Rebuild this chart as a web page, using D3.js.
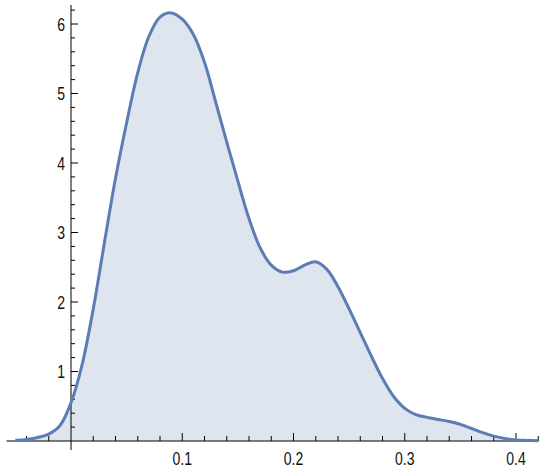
<!DOCTYPE html>
<html>
<head>
<meta charset="utf-8">
<script src="https://cdn.jsdelivr.net/npm/d3@7"></script>
<style>
  body { margin: 0; background: #fff; }
  text { font-family: "Liberation Sans", Arial, sans-serif; fill: #111; }
</style>
</head>
<body>
<div id="chart"></div>
<script>
// density estimate
const xValues = [-0.05, -0.04, -0.03, -0.02, -0.01, 0, 0.01, 0.02, 0.03, 0.04, 0.05, 0.06, 0.07, 0.08, 0.09,
  0.10, 0.11, 0.12, 0.13, 0.14, 0.15, 0.16, 0.17, 0.18, 0.19, 0.20, 0.21, 0.22, 0.23, 0.24, 0.25,
  0.26, 0.27, 0.28, 0.29, 0.30, 0.31, 0.32, 0.33, 0.34, 0.35, 0.36, 0.37, 0.38, 0.39, 0.40, 0.41, 0.42];
const densityValues = [0.01, 0.02, 0.05, 0.10, 0.22, 0.55, 1.1, 1.9, 2.85, 3.78, 4.58, 5.3, 5.82, 6.1, 6.16,
  6.07, 5.85, 5.45, 4.88, 4.3, 3.74, 3.2, 2.78, 2.53, 2.43, 2.45, 2.53, 2.58, 2.47, 2.22, 1.9,
  1.56, 1.22, 0.9, 0.64, 0.47, 0.38, 0.34, 0.31, 0.28, 0.24, 0.18, 0.12, 0.07, 0.035, 0.015, 0.008, 0.004];
const xTicks = [0.1, 0.2, 0.3, 0.4];
const yTicks = [1, 2, 3, 4, 5, 6];

const width = 550;
const height = 468;

const data = xValues.map((x, i) => ({ x: x, y: densityValues[i] }));

const xScale = d3.scaleLinear().domain([0, 0.4]).range([71, 516]);
const yScale = d3.scaleLinear().domain([0, 6]).range([441, 24]);

const svg = d3.select("#chart")
  .append("svg")
  .attr("width", width)
  .attr("height", height);

const area = d3.area()
  .x(d => xScale(d.x))
  .y0(yScale(0))
  .y1(d => yScale(d.y))
  .curve(d3.curveCatmullRom.alpha(0.5));

const line = d3.line()
  .x(d => xScale(d.x))
  .y(d => yScale(d.y))
  .curve(d3.curveCatmullRom.alpha(0.5));

svg.append("path")
  .datum(data)
  .attr("d", area)
  .attr("fill", "#dfe5ef");

// x axis
const xMinor = d3.range(-0.04, 0.421, 0.02).filter(v => Math.abs(v) > 1e-9);
svg.append("line")
  .attr("x1", xScale(-0.058)).attr("x2", xScale(0.42))
  .attr("y1", yScale(0)).attr("y2", yScale(0))
  .attr("stroke", "#000").attr("stroke-width", 1);

svg.selectAll(".x-tick")
  .data(xMinor)
  .enter()
  .append("line")
  .attr("class", "x-tick")
  .attr("x1", d => xScale(d)).attr("x2", d => xScale(d))
  .attr("y1", yScale(0))
  .attr("y2", d => xTicks.some(t => Math.abs(t - d) < 1e-9) ? yScale(0) - 8 : yScale(0) - 5)
  .attr("stroke", "#000");

// labels are condensed in the original
svg.selectAll(".x-label")
  .data(xTicks)
  .enter()
  .append("text")
  .attr("class", "x-label")
  .attr("transform", d => `translate(${xScale(d)},${yScale(0) + 24}) scale(0.78,1)`)
  .attr("text-anchor", "middle")
  .style("font-size", "18px")
  .text(d => d3.format(".1f")(d));

// y axis
const yMinor = d3.range(0.2, 6.21, 0.2);
svg.append("line")
  .attr("x1", xScale(0)).attr("x2", xScale(0))
  .attr("y1", 5).attr("y2", yScale(0) + 9)
  .attr("stroke", "#000").attr("stroke-width", 1);

svg.selectAll(".y-tick")
  .data(yMinor)
  .enter()
  .append("line")
  .attr("class", "y-tick")
  .attr("x1", xScale(0))
  .attr("x2", d => yTicks.some(t => Math.abs(t - d) < 1e-9) ? xScale(0) + 7 : xScale(0) + 4)
  .attr("y1", d => yScale(d)).attr("y2", d => yScale(d))
  .attr("stroke", "#000");

svg.selectAll(".y-label")
  .data(yTicks)
  .enter()
  .append("text")
  .attr("class", "y-label")
  .attr("transform", d => `translate(${xScale(0) - 6},${yScale(d) + 6.5}) scale(0.78,1)`)
  .attr("text-anchor", "end")
  .style("font-size", "18px")
  .text(d => d);

svg.append("path")
  .datum(data)
  .attr("d", line)
  .attr("fill", "none")
  .attr("stroke", "#5b7db3")
  .attr("stroke-width", 3);
</script>
</body>
</html>
